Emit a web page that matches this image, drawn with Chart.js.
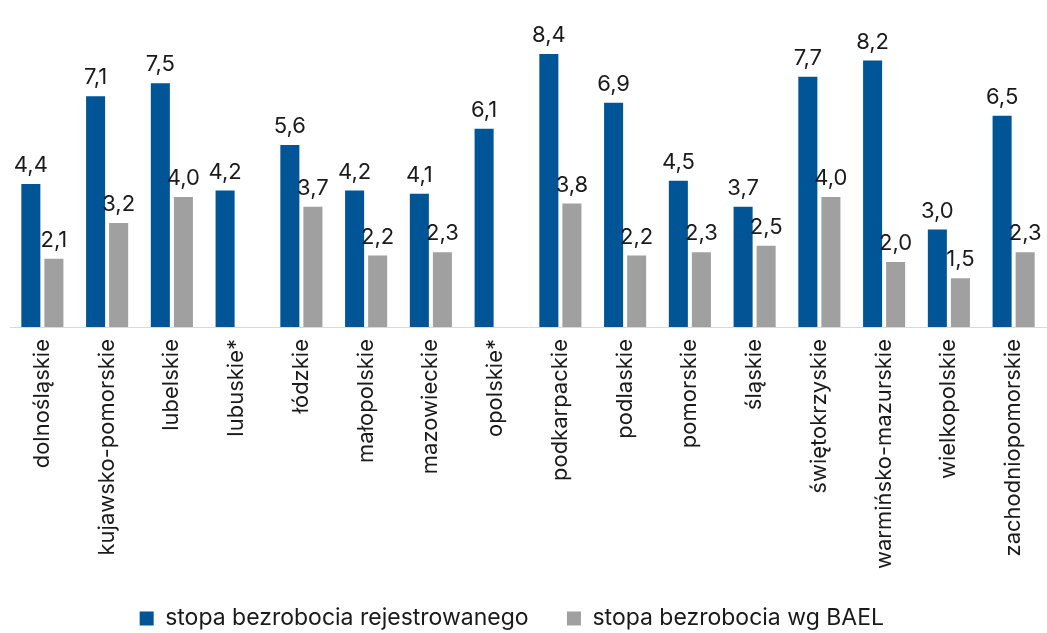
<!DOCTYPE html>
<html>
<head>
<meta charset="utf-8">
<script src="https://cdn.jsdelivr.net/npm/chart.js@4"></script>
<style>
  html, body { margin: 0; padding: 0; background: #fff; }
  #wrap { width: 1047px; height: 633px; }
</style>
</head>
<body>
<div id="wrap"><canvas id="chart"></canvas></div>
<script>
const regions = ['dolnośląskie', 'kujawsko-pomorskie', 'lubelskie', 'lubuskie*', 'łódzkie', 'małopolskie',
  'mazowieckie', 'opolskie*', 'podkarpackie', 'podlaskie', 'pomorskie', 'śląskie', 'świętokrzyskie',
  'warmińsko-mazurskie', 'wielkopolskie', 'zachodniopomorskie'];
const registered = [4.4, 7.1, 7.5, 4.2, 5.6, 4.2, 4.1, 6.1, 8.4, 6.9, 4.5, 3.7, 7.7, 8.2, 3.0, 6.5];
const bael = [2.1, 3.2, 4.0, null, 3.7, 2.2, 2.3, null, 3.8, 2.2, 2.3, 2.5, 4.0, 2.0, 1.5, 2.3];
const seriesNames = ['stopa bezrobocia rejestrowanego', 'stopa bezrobocia wg BAEL'];

// simple value labels above the bars
const valueLabels = {
  id: 'valueLabels',
  afterDatasetsDraw(chart) {
    const ctx = chart.ctx;
    ctx.save();
    ctx.font = '22px Inter';
    ctx.fillStyle = '#1a1a1a';
    ctx.textAlign = 'center';
    ctx.textBaseline = 'alphabetic';
    chart.data.datasets.forEach((ds, i) => {
      const meta = chart.getDatasetMeta(i);
      meta.data.forEach((bar, j) => {
        const v = ds.data[j];
        if (v == null) return;
        ctx.fillText(v.toFixed(1).replace('.', ','), bar.x, bar.y - 12);
      });
    });
    ctx.restore();
  }
};

new Chart(document.getElementById('chart'), {
  type: 'bar',
  data: {
    labels: regions,
    datasets: [
      { label: seriesNames[0], data: registered, backgroundColor: '#005596' },
      { label: seriesNames[1], data: bael, backgroundColor: '#a0a0a0' }
    ]
  },
  options: {
    responsive: true,
    maintainAspectRatio: false,
    animation: false,
    categoryPercentage: 0.712,
    barPercentage: 0.826,
    layout: { padding: { top: 2, left: 10, right: 1, bottom: -7 } },
    scales: {
      x: {
        grid: { display: false },
        border: { color: '#d9d9d9', width: 1 },
        ticks: {
          minRotation: 90, maxRotation: 90, autoSkip: false,
          color: '#1a1a1a', font: { family: 'Inter', size: 22 }, padding: 4
        },
        // leave room below the labels, as in the original
        afterFit(scale) { scale.height = 274; }
      },
      y: { display: false, min: 0, max: 10 }
    },
    plugins: {
      legend: {
        position: 'bottom',
        labels: {
          boxWidth: 14, boxHeight: 14, padding: 6,
          color: '#1a1a1a', font: { family: 'Inter', size: 23 },
          // widen the gap between the two legend items
          generateLabels(chart) {
            const items = Chart.defaults.plugins.legend.labels.generateLabels(chart);
            items[0].text += '     ';
            items[1].text += '     ';
            return items;
          }
        }
      },
      tooltip: { enabled: false }
    }
  },
  plugins: [valueLabels]
});
</script>
</body>
</html>
